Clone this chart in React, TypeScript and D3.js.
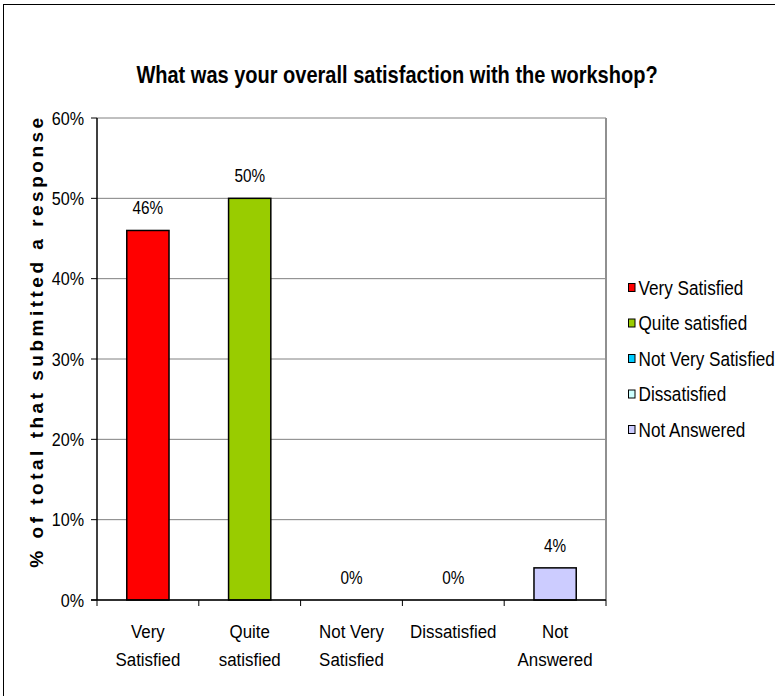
import React from "react";
import * as d3 from "d3";

const categories = ["Very Satisfied", "Quite satisfied", "Not Very Satisfied", "Dissatisfied", "Not Answered"];
const categoryLines = [["Very", "Satisfied"], ["Quite", "satisfied"], ["Not Very", "Satisfied"], ["Dissatisfied"], ["Not", "Answered"]];
const values = [0.46, 0.5, 0, 0, 0.04];
const colors = ["#FF0000", "#99CC00", "#00CCFF", "#CCFFFF", "#CCCCFF"];
const yTicks = [0, 0.1, 0.2, 0.3, 0.4, 0.5, 0.6];
const title = "What was your overall satisfaction with the workshop?";
const yTitle = "% of total that submitted a response";

const W = 775, H = 696;
const plot = { left: 97, right: 606, top: 118, bottom: 600 };
const FONT = "'Liberation Sans', Arial, sans-serif";

function T({ x, y, children, size = 17, anchor = "middle", weight = "normal" as any, sx = 0.89 }) {
  return (
    <text transform={`translate(${x},${y}) scale(${sx},1)`} fontSize={size} textAnchor={anchor}
      fontFamily={FONT} fontWeight={weight} fill="#000">{children}</text>
  );
}

export default function App() {
  const x = d3.scaleBand().domain(categories).range([plot.left, plot.right]);
  const y = d3.scaleLinear().domain([0, 0.6]).range([plot.bottom, plot.top]);
  const fmt = d3.format(".0%");
  const bw = x.bandwidth() * 0.415;
  const boundaries = [...categories.map((c) => x(c)!), plot.right];

  return (
    <svg width={W} height={H} style={{ position: "absolute", left: 0, top: 0, background: "#fff" }}>
      <rect x={3.5} y={4.5} width={W + 10} height={H + 10} fill="#fff" stroke="#000" strokeWidth={1} />
      <T x={397} y={83} size={23} weight="bold" sx={0.87}>{title}</T>

      {yTicks.map((t) => (
        <line key={"g" + t} x1={plot.left} x2={plot.right} y1={y(t)} y2={y(t)} stroke="#808080" strokeWidth={1} />
      ))}
      <line x1={plot.right} x2={plot.right} y1={plot.top} y2={plot.bottom} stroke="#909090" strokeWidth={2} />

      {categories.map((c, i) => {
        const cx = x(c)! + x.bandwidth() / 2;
        return (
          <g key={c}>
            {values[i] > 0 && (
              <rect x={cx - bw / 2} y={y(values[i])} width={bw} height={plot.bottom - y(values[i])}
                fill={colors[i]} stroke="#000" strokeWidth={1.5} />
            )}
            <T x={cx} y={y(values[i]) - 16} size={18} sx={0.85}>{fmt(values[i])}</T>
            {categoryLines[i].map((l, j) => (
              <T key={j} x={cx} y={638 + j * 28} size={19}>{l}</T>
            ))}
          </g>
        );
      })}

      <line x1={plot.left} x2={plot.left} y1={plot.top} y2={plot.bottom} stroke="#000" strokeWidth={1.5} />
      <line x1={plot.left - 6} x2={plot.right} y1={plot.bottom} y2={plot.bottom} stroke="#000" strokeWidth={1.5} />
      {yTicks.map((t) => (
        <g key={"t" + t}>
          <line x1={plot.left - 6} x2={plot.left} y1={y(t)} y2={y(t)} stroke="#000" strokeWidth={1} />
          <T x={84} y={y(t) + 6.5} size={19} anchor="end" sx={0.85}>{fmt(t)}</T>
        </g>
      ))}
      {boundaries.map((b, i) => (
        <line key={"xt" + i} x1={b} x2={b} y1={plot.bottom} y2={plot.bottom + 6} stroke="#000" strokeWidth={1} />
      ))}

      <text transform={`translate(43,341) rotate(-90)`} textAnchor="middle"
        fontFamily={FONT} fontWeight="bold" fontSize={19} letterSpacing={3.5}>{yTitle}</text>

      {categories.map((c, i) => {
        const cy = 288 + i * 35.5;
        return (
          <g key={"l" + c}>
            <rect x={628.5} y={cy - 4.5} width={6.5} height={8} fill={colors[i]} stroke="#000" strokeWidth={1} />
            <T x={638.5} y={cy + 6.5} size={19.5} anchor="start" sx={0.88}>{c}</T>
          </g>
        );
      })}
    </svg>
  );
}
